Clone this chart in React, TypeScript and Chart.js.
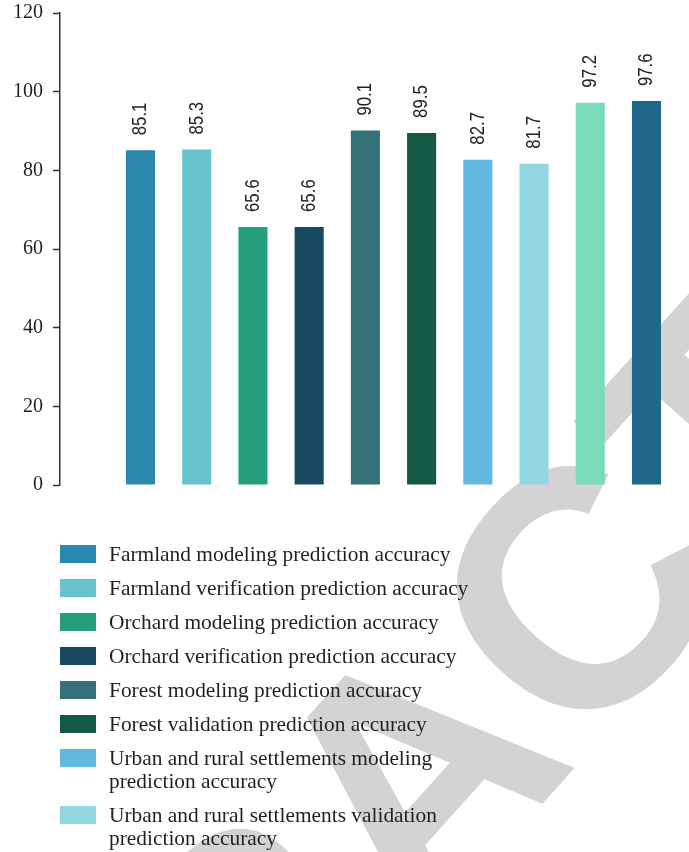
import React, { useEffect, useRef } from "react";
import { Chart, registerables } from "chart.js";

Chart.register(...registerables);

const seriesNames = [
  "Farmland modeling prediction accuracy",
  "Farmland verification prediction accuracy",
  "Orchard modeling prediction accuracy",
  "Orchard verification prediction accuracy",
  "Forest modeling prediction accuracy",
  "Forest validation prediction accuracy",
  "Urban and rural settlements modeling prediction accuracy",
  "Urban and rural settlements validation prediction accuracy",
  "Water area modeling prediction accuracy",
  "Water area validation prediction accuracy",
];
const seriesValues = [85.1, 85.3, 65.6, 65.6, 90.1, 89.5, 82.7, 81.7, 97.2, 97.6];
const seriesColors = [
  "#2A87AD",
  "#67C3D0",
  "#259F7B",
  "#174963",
  "#347078",
  "#135945",
  "#61B8E0",
  "#92D6DF",
  "#7BDCBD",
  "#206889",
];
const yMin = 0;
const yMax = 120;
const yStep = 20;
const watermarkText = "RETRACTED";

const W = 689;
const H = 852;

const watermarkPlugin = {
  id: "watermark",
  beforeDraw(chart: any) {
    const ctx = chart.ctx;
    ctx.save();
    ctx.fillStyle = "#d3d3d3";
    ctx.font = 'bold 338px "Liberation Sans"';
    ctx.textAlign = "center";
    ctx.textBaseline = "alphabetic";
    ctx.translate(409, 771);
    ctx.rotate((-48 * Math.PI) / 180);
    ctx.fillText(watermarkText, 0, 121);
    ctx.restore();
  },
};

const valueLabelPlugin = {
  id: "valueLabels",
  afterDatasetsDraw(chart: any) {
    const ctx = chart.ctx;
    chart.data.datasets.forEach((ds: any, i: number) => {
      const meta = chart.getDatasetMeta(i);
      meta.data.forEach((bar: any, j: number) => {
        const v = ds.data[j].y;
        ctx.save();
        ctx.translate(bar.x, bar.y - 15);
        ctx.rotate(-Math.PI / 2);
        ctx.scale(0.8, 1);
        ctx.font = '21px "Liberation Sans"';
        ctx.fillStyle = "#222";
        ctx.textAlign = "left";
        ctx.textBaseline = "middle";
        ctx.fillText(v.toFixed(1), 0, 0);
        ctx.restore();
      });
    });
  },
};

export default function App() {
  const canvasRef = useRef<HTMLCanvasElement | null>(null);

  useEffect(() => {
    const canvas = canvasRef.current;
    if (!canvas) return;
    const chart = new Chart(canvas, {
      type: "bar",
      data: {
        datasets: seriesNames.map((name, i) => ({
          label: name,
          data: [{ x: i, y: seriesValues[i] }],
          backgroundColor: seriesColors[i],
          borderWidth: 0,
        })),
      },
      options: {
        responsive: false,
        animation: false,
        grouped: false,
        barPercentage: 0.551,
        categoryPercentage: 1,
        layout: { padding: { top: 13, bottom: 367, left: 0, right: 14 } },
        plugins: {
          legend: { display: false },
          tooltip: { enabled: false },
        },
        scales: {
          x: {
            type: "linear",
            display: false,
            offset: false,
            bounds: "data",
            min: -1.432,
            max: 9.507,
            ticks: { stepSize: 1, includeBounds: false },
            grid: { display: false, offset: false },
          },
          y: {
            type: "linear",
            min: yMin,
            max: yMax,
            afterFit: (s: any) => {
              s.width = 60;
              s.paddingTop = 0;
              s.paddingBottom = 0;
            },
            ticks: {
              stepSize: yStep,
              padding: 10,
              color: "#231f20",
              font: { family: '"Liberation Serif"', size: 20 },
            },
            grid: {
              display: true,
              drawOnChartArea: false,
              drawTicks: true,
              tickLength: 7,
              tickColor: "#333",
              tickWidth: 1.5,
            },
            border: { display: true, color: "#333", width: 1.5 },
          },
        },
      } as any,
      plugins: [watermarkPlugin, valueLabelPlugin],
    });
    return () => chart.destroy();
  }, []);

  return (
    <div
      style={{
        position: "fixed",
        left: 0,
        top: 0,
        width: W,
        height: H,
        overflow: "hidden",
        background: "#fff",
      }}
    >
      <canvas ref={canvasRef} width={W} height={H} style={{ display: "block" }} />
      <div style={{ position: "absolute", left: 60, top: 542.5 }}>
        {seriesNames.map((name, i) => (
          <div
            key={name}
            style={{ display: "flex", alignItems: "flex-start", marginBottom: 11 }}
          >
            <div
              style={{
                width: 36,
                height: 18,
                marginTop: 2.5,
                flexShrink: 0,
                background: seriesColors[i],
              }}
            />
            <div
              style={{
                marginLeft: 13,
                width: 385,
                font: '21.4px "Liberation Serif"',
                lineHeight: "23px",
                color: "#231f20",
              }}
            >
              {name}
            </div>
          </div>
        ))}
      </div>
    </div>
  );
}
